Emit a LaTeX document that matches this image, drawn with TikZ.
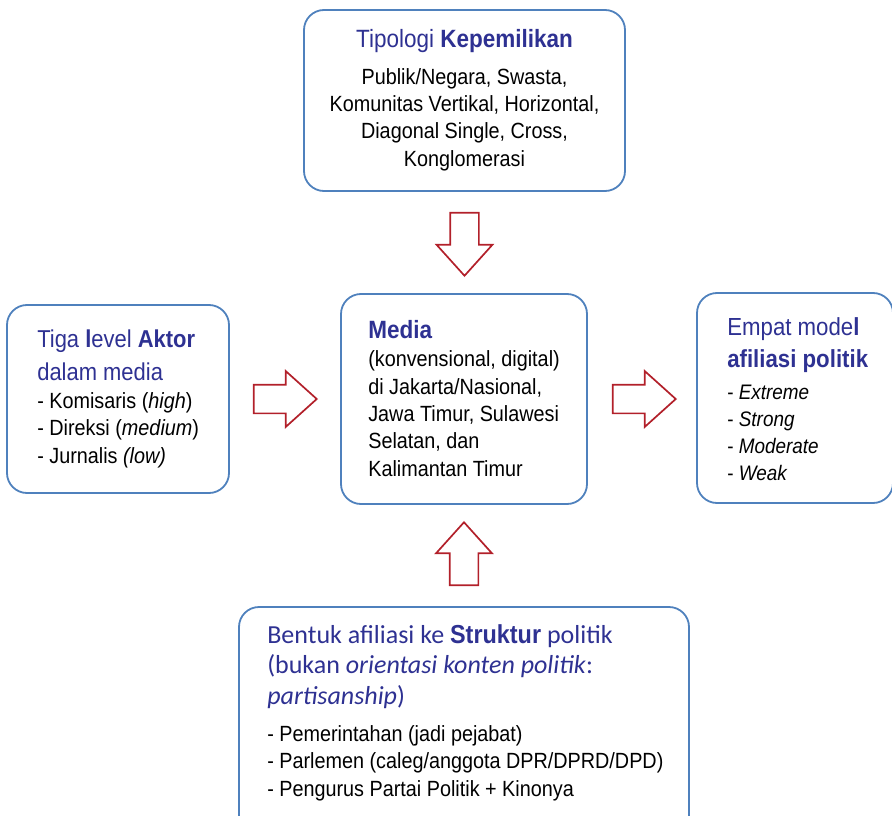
\documentclass[tikz,border=0pt]{standalone}
\usepackage{fontspec}
\setmainfont{Liberation Sans}[FakeStretch=0.9]
\newfontfamily\calibfont{Carlito}
\usetikzlibrary{shapes.arrows,calc,positioning}
\definecolor{boxblue}{RGB}{79,129,189}
\definecolor{headblue}{RGB}{46,49,146}
\definecolor{arrowred}{RGB}{178,32,42}
\tikzset{
  roundbox/.style={draw=boxblue, line width=1.8pt, rounded corners=20pt, inner sep=0pt},
  bigarrow/.style={single arrow, draw=arrowred, line width=1.7pt, inner sep=13.5pt,
    minimum height=63pt, single arrow head extend=13.5pt, single arrow tip angle=84, anchor=tail},
  bodytext/.style={inner sep=0pt, align=left, font=\fontsize{22}{27.3}\selectfont},
  headtext/.style={inner sep=0pt, align=left, text=headblue},
}

\begin{document}
\begin{tikzpicture}[x=1pt,y=-1pt]
\useasboundingbox (0,0) rectangle (892,816);
\clip (0,0) rectangle (892,816);

% the five boxes
\node[roundbox, minimum width=321pt, minimum height=181pt] (tipologi) at (464.5,100.5) {};
\node[roundbox, minimum width=222pt, minimum height=188pt] (aktor) at (118,399) {};
\node[roundbox, minimum width=246pt, minimum height=210pt] (media) at (464,399) {};
\node[roundbox, minimum width=196pt, minimum height=210pt] (model) at (795,398) {};
\node[roundbox, minimum width=450pt, minimum height=230pt] (struktur) at (464,722) {};

% top box text (base = last line)
\node[headtext, anchor=base, font=\fontsize{25}{27}\selectfont] (tipologiHead)
  at ($(tipologi.north)+(0,38)$) {Tipologi \textbf{Kepemilikan}};
\node[bodytext, anchor=base, align=center] (tipologiBody) at ($(tipologi.north)+(0,157)$)
  {Publik/Negara, Swasta,\\Komunitas Vertikal, Horizontal,\\Diagonal Single, Cross,\\Konglomerasi};

% left box text
\node[headtext, anchor=base west, font=\fontsize{24.4}{33}\selectfont] (aktorHead)
  at ($(aktor.north west)+(31,76)$) {Tiga \textbf{l}evel \textbf{Aktor}\\dalam media};
\node[bodytext, anchor=base west] (aktorBody) at ($(aktor.north west)+(31,159)$)
  {- Komisaris (\textit{high})\\- Direksi (\textit{medium})\\- Jurnalis \textit{(low)}};

% center box text
\node[headtext, anchor=base west, font=\fontsize{25}{30}\selectfont\bfseries] (mediaHead)
  at ($(media.north west)+(28,45)$) {Media};
\node[bodytext, anchor=base west] (mediaBody) at ($(media.north west)+(28,183)$)
  {(konvensional, digital)\\di Jakarta/Nasional,\\Jawa Timur, Sulawesi\\Selatan, dan\\Kalimantan Timur};

% right box text
\node[headtext, anchor=base west, font=\fontsize{24.7}{32}\selectfont] (modelHead)
  at ($(model.north west)+(31,75)$) {Empat mode\textbf{l}\\\textbf{afiliasi politik}};
\node[bodytext, anchor=base west, font=\fontsize{21}{27}\selectfont] (modelBody)
  at ($(model.north west)+(31,188)$)
  {- \textit{Extreme}\\- \textit{Strong}\\- \textit{Moderate}\\- \textit{Weak}};

% bottom box text
\node[headtext, anchor=base west, font=\calibfont\fontsize{26}{30.5}\selectfont] (strukturHead)
  at ($(struktur.north west)+(29,98)$)
  {Bentuk afiliasi ke {\rmfamily\bfseries Struktur} politik\\(bukan \textit{orientasi konten politik}:\\\textit{partisanship})};
\node[bodytext, anchor=base west] (strukturBody) at ($(struktur.north west)+(29,190)$)
  {- Pemerintahan (jadi pejabat)\\- Parlemen (caleg/anggota DPR/DPRD/DPD)\\- Pengurus Partai Politik + Kinonya};

% hollow block arrows towards / from the media box (placed by their tails)
\node[bigarrow, shape border rotate=270] (arrTop) at ($(tipologi.south)+(0,20)$) {};
\node[bigarrow] (arrLeft) at ($(aktor.east)+(23,0)$) {};
\node[bigarrow] (arrRight) at ($(media.east)+(24,0)$) {};
\node[bigarrow, shape border rotate=90] (arrBottom) at ($(struktur.north)+(0,-20)$) {};
\end{tikzpicture}
\end{document}
